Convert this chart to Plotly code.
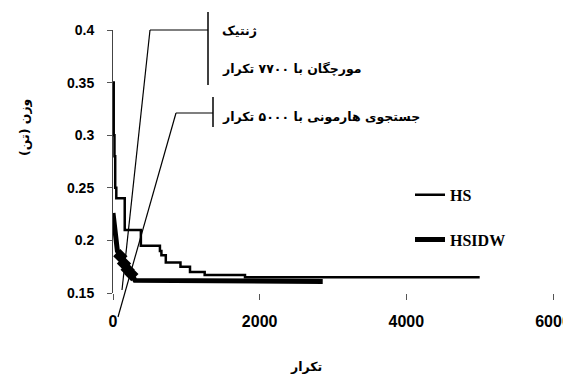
import plotly.graph_objects as go

# ---- data ----
hs_iter = [0, 10, 20, 30, 45, 160, 380, 640, 660, 720, 920, 1050, 1250, 1800, 5000]
hs_weight = [0.35, 0.30, 0.28, 0.25, 0.24, 0.21, 0.195, 0.19, 0.186, 0.179, 0.175, 0.170, 0.167, 0.165, 0.165]

hsidw_iter = [0, 15, 30, 60, 100, 150, 200, 250, 300, 2860]
hsidw_weight = [0.226, 0.215, 0.200, 0.190, 0.185, 0.178, 0.172, 0.168, 0.162, 0.161]

marker_iter = [100, 150, 200, 250]
marker_weight = [0.185, 0.178, 0.172, 0.168]

x_ticks = [0, 2000, 4000, 6000]
y_ticks = [0.15, 0.2, 0.25, 0.3, 0.35, 0.4]
y_tick_text = ["0.15", "0.2", "0.25", "0.3", "0.35", "0.4"]

series_names = ["HS", "HSIDW"]
x_title = "تکرار"
y_title = "وزن (تن)"
label_ga = "ژنتیک"
label_aco = "مورچگان با ۷۷۰۰ تکرار"
label_hs = "جستجوی هارمونی با ۵۰۰۰ تکرار"

fig = go.Figure()
fig.add_trace(go.Scatter(x=hs_iter, y=hs_weight, mode="lines", name=series_names[0],
                         line=dict(color="black", width=2.5, shape="hv"),
                         legendgroup="a"))
fig.add_trace(go.Scatter(x=hsidw_iter, y=hsidw_weight, mode="lines", name=series_names[1],
                         line=dict(color="black", width=5),
                         legendgroup="b"))
fig.add_trace(go.Scatter(x=marker_iter, y=marker_weight, mode="markers", showlegend=False,
                         marker=dict(symbol="diamond", size=11, color="black")))

fig.update_layout(
    width=571, height=378,
    margin=dict(l=105, r=26, t=22, b=93),
    paper_bgcolor="white", plot_bgcolor="white",
    showlegend=True,
    legend=dict(x=0.675, y=0.438, xanchor="left", yanchor="top",
                font=dict(family="Liberation Serif", size=16, color="black", weight="bold"),
                traceorder="grouped", tracegroupgap=21, bgcolor="rgba(0,0,0,0)"),
    xaxis=dict(range=[0, 6000], tickvals=x_ticks, showgrid=False, zeroline=False,
               showline=False, ticks="outside", ticklen=6, tickcolor="#555",
               ticklabelstandoff=8, ticklabeloverflow="allow",
               tickfont=dict(family="Liberation Sans", size=16, color="black", weight="bold"),
               automargin=False),
    yaxis=dict(range=[0.15, 0.4], tickvals=y_ticks, ticktext=y_tick_text, showgrid=False,
               zeroline=False, showline=True, linecolor="#444", linewidth=1,
               ticks="outside", ticklen=5, tickcolor="#555", ticklabelstandoff=10,
               tickfont=dict(family="Liberation Sans", size=14, color="black", weight="bold"),
               automargin=False),
)

def px2paper(px, py):
    return (px - 113) / 440.0, (293 - py) / 263.0

def pline(p0, p1, w=1.2):
    x0, y0 = px2paper(*p0)
    x1, y1 = px2paper(*p1)
    fig.add_shape(type="line", xref="paper", yref="paper", x0=x0, y0=y0, x1=x1, y1=y1,
                  line=dict(color="black", width=w))

# callout for genetic / ant colony labels
pline((122, 290), (150, 30))
pline((150, 30), (208, 30))
pline((208, 12), (208, 85), 1.5)
# callout for harmony search label
pline((118, 317), (176, 113))
pline((176, 113), (213, 113))
pline((213, 97), (213, 127), 1.5)

ar_font = dict(family="DejaVu Sans", size=12.5, color="black", weight="bold")

def label(text, px, py, font=ar_font, xanchor="left", angle=0):
    x, y = px2paper(px, py)
    fig.add_annotation(text=text, x=x, y=y, xref="paper", yref="paper",
                       xanchor=xanchor, yanchor="middle", showarrow=False,
                       font=font, textangle=angle)

label(label_ga, 220, 30)
label(label_aco, 220, 68)
label(label_hs, 220, 116)
label(x_title, 306, 366, xanchor="center")
label(y_title, 25, 128, xanchor="center", angle=-90)

fig.write_html("out.html")
